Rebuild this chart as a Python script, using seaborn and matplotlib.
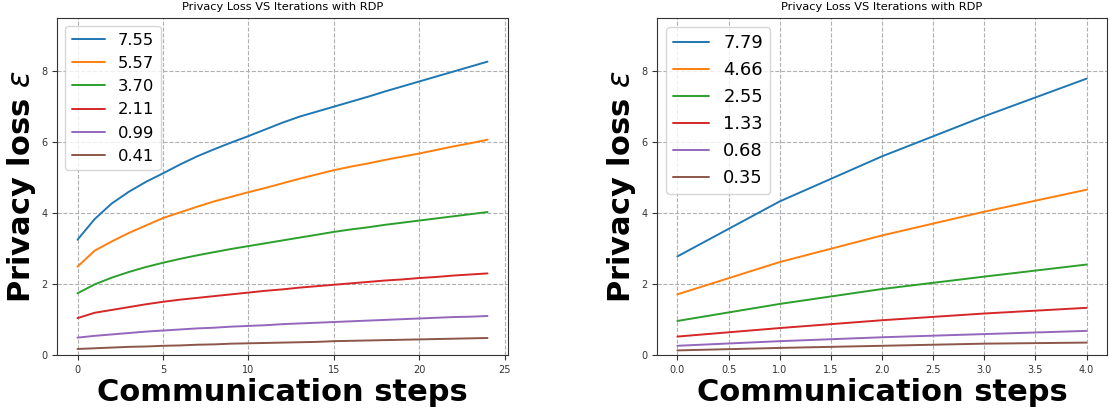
import pandas as pd
import numpy as np
import seaborn as sns
import matplotlib.pyplot as plt

# left panel: 25 communication steps
steps_left = list(range(25))
labels_left = ['7.55', '5.57', '3.70', '2.11', '0.99', '0.41']
eps_left = [
    [3.25, 3.83, 4.27, 4.60, 4.88, 5.12, 5.37, 5.60, 5.80, 5.99, 6.17, 6.36, 6.55,
     6.72, 6.86, 7.00, 7.14, 7.28, 7.43, 7.57, 7.71, 7.85, 7.99, 8.13, 8.27],
    [2.49, 2.94, 3.20, 3.44, 3.65, 3.86, 4.02, 4.18, 4.33, 4.46, 4.59, 4.71, 4.84,
     4.97, 5.09, 5.21, 5.31, 5.40, 5.50, 5.59, 5.68, 5.78, 5.88, 5.97, 6.07],
    [1.74, 1.99, 2.18, 2.34, 2.48, 2.60, 2.71, 2.81, 2.90, 2.99, 3.07, 3.15, 3.23,
     3.31, 3.39, 3.47, 3.54, 3.60, 3.67, 3.73, 3.79, 3.85, 3.91, 3.97, 4.03],
    [1.04, 1.19, 1.27, 1.35, 1.43, 1.50, 1.56, 1.61, 1.66, 1.71, 1.76, 1.81, 1.85,
     1.90, 1.94, 1.98, 2.02, 2.06, 2.10, 2.13, 2.17, 2.20, 2.24, 2.27, 2.30],
    [0.49, 0.54, 0.58, 0.62, 0.66, 0.69, 0.72, 0.75, 0.77, 0.80, 0.82, 0.84, 0.87,
     0.89, 0.91, 0.93, 0.95, 0.97, 0.99, 1.01, 1.03, 1.05, 1.07, 1.08, 1.10],
    [0.17, 0.19, 0.21, 0.23, 0.24, 0.26, 0.27, 0.29, 0.30, 0.32, 0.33, 0.34, 0.35,
     0.36, 0.37, 0.39, 0.40, 0.41, 0.42, 0.43, 0.44, 0.45, 0.46, 0.47, 0.48],
]

# right panel: 5 communication steps
steps_right = [0, 1, 2, 3, 4]
labels_right = ['7.79', '4.66', '2.55', '1.33', '0.68', '0.35']
eps_right = [
    [2.78, 4.33, 5.60, 6.73, 7.79],
    [1.71, 2.62, 3.37, 4.04, 4.66],
    [0.96, 1.44, 1.86, 2.21, 2.55],
    [0.52, 0.76, 0.98, 1.17, 1.33],
    [0.26, 0.39, 0.50, 0.59, 0.68],
    [0.13, 0.20, 0.26, 0.32, 0.35],
]


def to_frame(steps, labels, series):
    rows = []
    for lab, ys in zip(labels, series):
        for x, y in zip(steps, ys):
            rows.append({'step': x, 'eps': y, 'label': lab})
    return pd.DataFrame(rows)


def draw_panel(ax, steps, labels, series, legend_size):
    df = to_frame(steps, labels, series)
    sns.lineplot(data=df, x='step', y='eps', hue='label', hue_order=labels,
                 palette='tab10', ax=ax, linewidth=1.4)
    ax.set_ylim(0, 9.5)
    ax.set_title('Privacy Loss VS Iterations with RDP', fontsize=8.2, color='black')
    ax.set_xlabel('Communication steps', fontsize=22, fontweight='bold', labelpad=2,
                  color='black')
    ax.set_ylabel(r'Privacy loss $\varepsilon$', fontsize=22, fontweight='bold',
                  labelpad=2, color='black')
    ax.tick_params(axis='both', labelsize=7, colors='#333333')
    ax.grid(True, linestyle='--', color='#b0b0b0', linewidth=0.8)
    for s in ax.spines.values():
        s.set_color('#333333')
    leg = ax.legend(loc='upper left', fontsize=legend_size, title=None)
    for t in leg.get_texts():
        t.set_color('black')


sns.set_style('ticks')
fig = plt.figure(figsize=(11.09, 4.09), dpi=100)
ax1 = fig.add_axes([0.0514, 0.132, 0.4067, 0.824])
ax2 = fig.add_axes([0.5924, 0.132, 0.4058, 0.824])

draw_panel(ax1, steps_left, labels_left, eps_left, 11.8)
draw_panel(ax2, steps_right, labels_right, eps_right, 12.9)

plt.savefig('out.png', dpi=100)
plt.close()
